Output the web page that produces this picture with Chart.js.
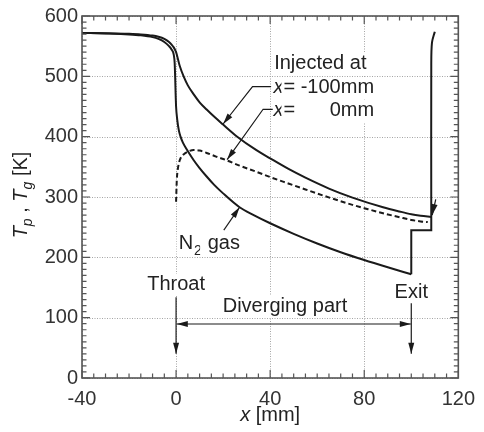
<!DOCTYPE html>
<html>
<head>
<meta charset="utf-8">
<script src="https://cdn.jsdelivr.net/npm/chart.js@4.4.0/dist/chart.umd.min.js"></script>
<style>
  body { margin: 0; background: #fff; }
  #wrap { width: 484px; height: 432px; }
</style>
</head>
<body>
<div id="wrap"><canvas id="myChart" width="484" height="432"></canvas></div>
<script>
// particles injected at x = -100 mm (solid)
var injM100X = [-40, -30, -20, -15, -10, -7.5, -5, -3, -2, -1, 0, 1.5, 3.3, 5, 7.5, 10, 13, 16.5, 20, 26, 34, 40, 48, 55, 65, 75, 88, 95, 100, 104, 108.5];
var injM100Y = [572, 571.5, 570.5, 569.5, 567.5, 565.5, 562, 557, 553, 548, 540, 518, 499, 485, 470, 457, 445, 432, 420, 400, 378, 364, 346, 332, 314, 299, 283, 276, 271.5, 269, 267];
// rise after the exit
var riseX = [108.5, 108.5, 108.8, 110];
var riseY = [267, 520, 556, 574];

// particles injected at x = 0 mm (dashed)
var inj0X = [0, 0.3, 0.7, 1.25, 2, 3.3, 5, 7.5, 10, 13, 17, 21.4, 27, 34, 40, 48, 55, 66, 75, 80, 88, 95, 100, 104, 107];
var inj0Y = [292, 328, 345, 357, 365, 371, 375, 378, 377, 373, 367, 361, 352, 342, 333, 322, 312.5, 298, 287, 281.5, 273, 266.5, 262, 259.5, 258.5];

// N2 gas
var gasX = [-40, -30, -20, -15, -10, -7.5, -5, -3, -2, -1, -0.6, -0.4, -0.2, 0, 0.5, 1.2, 1.9, 2.9, 4.7, 7.5, 10, 13, 16, 20, 27, 33, 40, 50, 60, 70, 80, 90, 100];
var gasY = [572, 571, 569.5, 568, 565, 562, 557, 550, 545, 536, 522, 500, 472, 450, 428, 410, 400, 390, 378, 361, 348, 334, 321, 306, 283, 270, 256.5, 239, 223, 208.5, 195.5, 183.5, 172];
var stepX = [100, 100, 108.5, 108.5];
var stepY = [172, 245, 245, 267];

var xTicks = [-40, 0, 40, 80, 120];
var yTicks = [0, 100, 200, 300, 400, 500, 600];
var xMinor = 5, yMinor = 10;

var FONT = 'Arial, "Liberation Sans", Helvetica, sans-serif';
var INK = '#1a1a1a';
var TXT = '#222';

function pts(xs, ys) {
    return xs.map(function (x, i) { return { x: x, y: ys[i] }; });
}

function line(data, dash, smooth) {
    return {
        data: data,
        borderColor: INK,
        borderWidth: 2,
        borderDash: dash || [],
        pointRadius: 0,
        cubicInterpolationMode: smooth === 'mono' ? 'monotone' : 'default',
        tension: smooth === 'mono' ? 0.4 : smooth,
        fill: false
    };
}

function head(c, x1, y1, x2, y2) {
    var a = Math.atan2(y2 - y1, x2 - x1), L = 11, W = 3;
    c.beginPath();
    c.moveTo(x2, y2);
    c.lineTo(x2 - L * Math.cos(a) + W * Math.sin(a), y2 - L * Math.sin(a) - W * Math.cos(a));
    c.lineTo(x2 - L * Math.cos(a) - W * Math.sin(a), y2 - L * Math.sin(a) + W * Math.cos(a));
    c.closePath();
    c.fill();
}

// dotted grid at the major ticks
var grid = {
    id: 'dotgrid',
    beforeDatasetsDraw: function (chart) {
        var c = chart.ctx, a = chart.chartArea, xs = chart.scales.x, ys = chart.scales.y;
        c.save();
        c.strokeStyle = '#a5a5a5';
        c.lineWidth = 1;
        c.setLineDash([1, 1.5]);
        xTicks.forEach(function (v) {
            var px = Math.round(xs.getPixelForValue(v)) + 0.5;
            c.beginPath();
            c.moveTo(px, a.top); c.lineTo(px, a.bottom);
            c.stroke();
        });
        yTicks.forEach(function (v) {
            var py = Math.round(ys.getPixelForValue(v)) + 0.5;
            c.beginPath();
            c.moveTo(a.left, py); c.lineTo(a.right, py);
            c.stroke();
        });
        c.restore();
    }
};

// frame with inward ticks on all four sides
var frame = {
    id: 'frame',
    afterDatasetsDraw: function (chart) {
        var c = chart.ctx, a = chart.chartArea, xs = chart.scales.x, ys = chart.scales.y;
        c.save();
        c.strokeStyle = '#555';
        c.lineWidth = 1.2;
        c.beginPath();
        for (var v = xs.min; v <= xs.max; v += xMinor) {
            var px = xs.getPixelForValue(v);
            var len = xTicks.indexOf(v) >= 0 ? 8 : 4.5;
            c.moveTo(px, a.bottom); c.lineTo(px, a.bottom - len);
            c.moveTo(px, a.top); c.lineTo(px, a.top + len);
        }
        for (var t = ys.min; t <= ys.max; t += yMinor) {
            var py = ys.getPixelForValue(t);
            var l2 = yTicks.indexOf(t) >= 0 ? 8 : 4.5;
            c.moveTo(a.left, py); c.lineTo(a.left + l2, py);
            c.moveTo(a.right, py); c.lineTo(a.right - l2, py);
        }
        c.stroke();
        c.lineWidth = 1.6;
        c.strokeRect(a.left, a.top, a.right - a.left, a.bottom - a.top);
        c.restore();
    }
};

// labels and arrows
var notes = {
    id: 'notes',
    afterDatasetsDraw: function (chart) {
        var c = chart.ctx, xs = chart.scales.x, ys = chart.scales.y;
        function X(v) { return xs.getPixelForValue(v); }
        function Y(v) { return ys.getPixelForValue(v); }

        function text(s, x, y, align, style) {
            c.font = (style || '') + ' 20px ' + FONT;
            c.textAlign = align || 'left';
            c.textBaseline = 'alphabetic';
            var w = c.measureText(s).width;
            var left = align === 'center' ? x - w / 2 : (align === 'right' ? x - w : x);
            c.fillStyle = '#fff';
            c.fillRect(left - 2, y - 16, w + 4, 22);
            c.fillStyle = TXT;
            c.fillText(s, x, y);
            return w;
        }
        function leader(p, dbl) {
            c.beginPath();
            c.moveTo(X(p[0][0]), Y(p[0][1]));
            for (var i = 1; i < p.length; i++) c.lineTo(X(p[i][0]), Y(p[i][1]));
            c.stroke();
            var n = p.length;
            head(c, X(p[n - 2][0]), Y(p[n - 2][1]), X(p[n - 1][0]), Y(p[n - 1][1]));
            if (dbl) head(c, X(p[1][0]), Y(p[1][1]), X(p[0][0]), Y(p[0][1]));
        }

        c.save();
        // text blocks
        text('Injected at', X(41.7), Y(512));
        var w1 = text('x', X(41.4), Y(472), 'left', 'italic');
        text('= -100mm', X(41.4) + w1, Y(472));
        var w2 = text('x', X(41.4), Y(434.3), 'left', 'italic');
        text('=', X(41.4) + w2, Y(434.3));
        text('0mm', X(84.2), Y(434.3), 'right');

        var nx = X(1.1), ny = Y(213.3);
        var wn = text('N', nx, ny);
        c.font = '14px ' + FONT;
        c.fillStyle = TXT;
        c.textAlign = 'left';
        c.fillText('2', nx + wn + 1, ny + 6);
        text(' gas', nx + wn + 9, ny);

        text('Throat', X(0), Y(146), 'center');
        text('Exit', X(100), Y(132), 'center');
        text('Diverging part', X(46.3), Y(110), 'center');

        // arrows
        c.strokeStyle = INK;
        c.fillStyle = INK;
        c.lineWidth = 1.2;
        leader([[40.4, 482.8], [32.5, 482.8], [20, 421]]);
        leader([[41.1, 445.4], [37, 445.4], [21.7, 362]]);
        leader([[20.3, 245], [27, 283]]);
        leader([[0, 134], [0, 40]]);
        leader([[100, 124], [100, 40]]);
        leader([[0.3, 89.5], [99.8, 89.5]], true);
        leader([[110.4, 296], [108.9, 270]]);
        c.restore();
    },
    afterDraw: function (chart) {
        var c = chart.ctx, a = chart.chartArea;
        c.save();
        c.fillStyle = TXT;
        c.textBaseline = 'alphabetic';
        c.textAlign = 'left';
        // x axis title
        c.font = 'italic 20px ' + FONT;
        var wx = c.measureText('x').width;
        c.font = '20px ' + FONT;
        var wr = c.measureText(' [mm]').width;
        var sx = (a.left + a.right) / 2 - (wx + wr) / 2;
        c.font = 'italic 20px ' + FONT;
        c.fillText('x', sx, 421);
        c.font = '20px ' + FONT;
        c.fillText(' [mm]', sx + wx, 421);

        // y axis title, rotated
        var parts = [
            ['T', 'italic 20px ', 0], ['p', 'italic 14px ', 5], [' , ', '20px ', 0],
            ['T', 'italic 20px ', 0], ['g', 'italic 14px ', 5], [' [K]', '20px ', 0]
        ];
        var total = 0;
        parts.forEach(function (p) { c.font = p[1] + FONT; total += c.measureText(p[0]).width; });
        c.translate(27, (a.top + a.bottom) / 2 - 2);
        c.rotate(-Math.PI / 2);
        var pos = -total / 2;
        parts.forEach(function (p) {
            c.font = p[1] + FONT;
            c.fillText(p[0], pos, p[2]);
            pos += c.measureText(p[0]).width;
        });
        c.restore();
    }
};

var ctx = document.getElementById('myChart').getContext('2d');
var myChart = new Chart(ctx, {
    type: 'line',
    data: {
        datasets: [
            line(pts(injM100X, injM100Y), null, 'mono'),
            line(pts(riseX, riseY), null, 0.3),
            line(pts(inj0X, inj0Y), [5, 3], 'mono'),
            line(pts(gasX, gasY), null, 'mono'),
            line(pts(stepX, stepY), null, 0)
        ]
    },
    options: {
        responsive: false,
        animation: false,
        events: [],
        layout: { padding: { top: 16, right: 18, left: 0, bottom: 0 } },
        plugins: {
            legend: { display: false },
            tooltip: { enabled: false }
        },
        scales: {
            x: {
                type: 'linear',
                min: -40,
                max: 120,
                afterBuildTicks: function (s) { s.ticks = xTicks.map(function (v) { return { value: v }; }); },
                afterFit: function (s) { s.height = 54; },
                grid: { display: false, drawTicks: false },
                border: { display: false },
                ticks: { color: '#333', padding: 9, maxRotation: 0, font: { size: 20, family: FONT } }
            },
            y: {
                type: 'linear',
                min: 0,
                max: 600,
                afterBuildTicks: function (s) { s.ticks = yTicks.map(function (v) { return { value: v }; }); },
                afterFit: function (s) { s.width = 82; },
                grid: { display: false, drawTicks: false },
                border: { display: false },
                ticks: { color: '#333', padding: 4, font: { size: 20, family: FONT } }
            }
        }
    },
    plugins: [grid, frame, notes]
});
</script>
</body>
</html>
